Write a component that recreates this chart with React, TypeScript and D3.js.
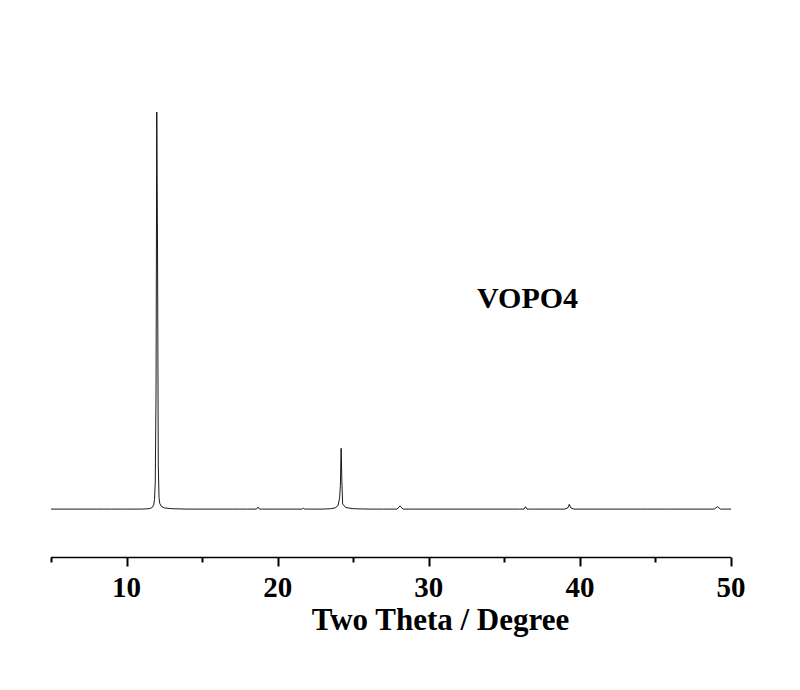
import React, { useEffect, useRef } from "react";
import * as d3 from "d3";

// XRD pattern (two theta in degrees, intensity in a.u.)
const twoTheta = [
  5, 6, 7, 8, 9, 10, 11, 11.5, 11.7, 11.8, 11.85, 11.9, 11.95, 12.0, 12.05, 12.1, 12.15, 12.2, 12.3, 12.5,
  13, 14, 15, 16, 17, 18, 18.6, 18.7, 18.8, 19, 20, 21, 21.6, 21.7, 21.8, 22, 23, 23.5, 23.8, 24.0, 24.1,
  24.15, 24.2, 24.25, 24.3, 24.5, 25, 26, 27, 27.9, 28.1, 28.3, 29, 30, 32, 34, 36, 36.3, 36.4, 36.5, 37,
  38, 39, 39.2, 39.3, 39.4, 39.6, 40, 42, 44, 46, 48, 48.9, 49.1, 49.3, 50,
];
const intensity = [
  1, 1, 1, 1, 1, 1, 1, 2, 5, 12, 25, 70, 290, 1000, 650, 110, 30, 15, 8, 4,
  2, 1, 1, 1, 1, 1, 1, 6, 1, 1, 1, 1, 1, 3, 1, 1, 1, 2, 4, 10, 30,
  60, 154, 70, 14, 5, 2, 1, 1, 1, 9, 1, 1, 1, 1, 1, 1, 1, 7, 1, 1,
  1, 1, 4, 13, 4, 1, 1, 1, 1, 1, 1, 1, 7, 1, 1,
];
const majorTicks = [10, 20, 30, 40, 50];
const minorTicks = [5, 15, 25, 35, 45];
const sampleLabel = "VOPO4";
const xTitle = "Two Theta / Degree";

export default function App() {
  const ref = useRef<SVGSVGElement>(null);

  useEffect(() => {
    const svg = d3.select(ref.current);
    svg.selectAll("*").remove();

    const x = d3.scaleLinear().domain([5, 50]).range([51, 731]);
    const y = d3.scaleLinear().domain([0, 1000]).range([509.5, 112]);
    const axisY = 557.5;
    const font = "'Liberation Serif', 'Times New Roman', serif";

    const pts = twoTheta.map((t, i) => [t, intensity[i]] as [number, number]);
    const line = d3
      .line<[number, number]>()
      .x((d) => x(d[0]))
      .y((d) => y(d[1]));

    svg
      .append("path")
      .datum(pts)
      .attr("d", line)
      .attr("fill", "none")
      .attr("stroke", "#000")
      .attr("stroke-width", 0.9);

    // bottom axis
    svg
      .append("line")
      .attr("x1", x(5))
      .attr("x2", x(50))
      .attr("y1", axisY)
      .attr("y2", axisY)
      .attr("stroke", "#000")
      .attr("stroke-width", 1.5);

    svg
      .selectAll("line.major")
      .data(majorTicks)
      .join("line")
      .attr("class", "major")
      .attr("x1", (d) => Math.round(x(d)) + 0.5)
      .attr("x2", (d) => Math.round(x(d)) + 0.5)
      .attr("y1", axisY)
      .attr("y2", axisY + 9)
      .attr("stroke", "#000")
      .attr("stroke-width", 2);

    svg
      .selectAll("line.minor")
      .data(minorTicks)
      .join("line")
      .attr("class", "minor")
      .attr("x1", (d) => Math.round(x(d)) + 0.5)
      .attr("x2", (d) => Math.round(x(d)) + 0.5)
      .attr("y1", axisY)
      .attr("y2", axisY + 5)
      .attr("stroke", "#000")
      .attr("stroke-width", 2);

    svg
      .selectAll("text.tick")
      .data(majorTicks)
      .join("text")
      .attr("class", "tick")
      .attr("x", (d) => x(d))
      .attr("y", 597)
      .attr("text-anchor", "middle")
      .style("font-family", font)
      .style("font-weight", "bold")
      .style("font-size", "29px")
      .text((d) => d);

    svg
      .append("text")
      .attr("x", 440.5)
      .attr("y", 630)
      .attr("text-anchor", "middle")
      .style("font-family", font)
      .style("font-weight", "bold")
      .style("font-size", "31px")
      .text(xTitle);

    svg
      .append("text")
      .attr("x", 477)
      .attr("y", 308)
      .style("font-family", font)
      .style("font-weight", "bold")
      .style("font-size", "30px")
      .text(sampleLabel);
  }, []);

  return (
    <svg
      ref={ref}
      width={800}
      height={690}
      style={{ position: "absolute", left: 0, top: 0, background: "#fff" }}
    />
  );
}
